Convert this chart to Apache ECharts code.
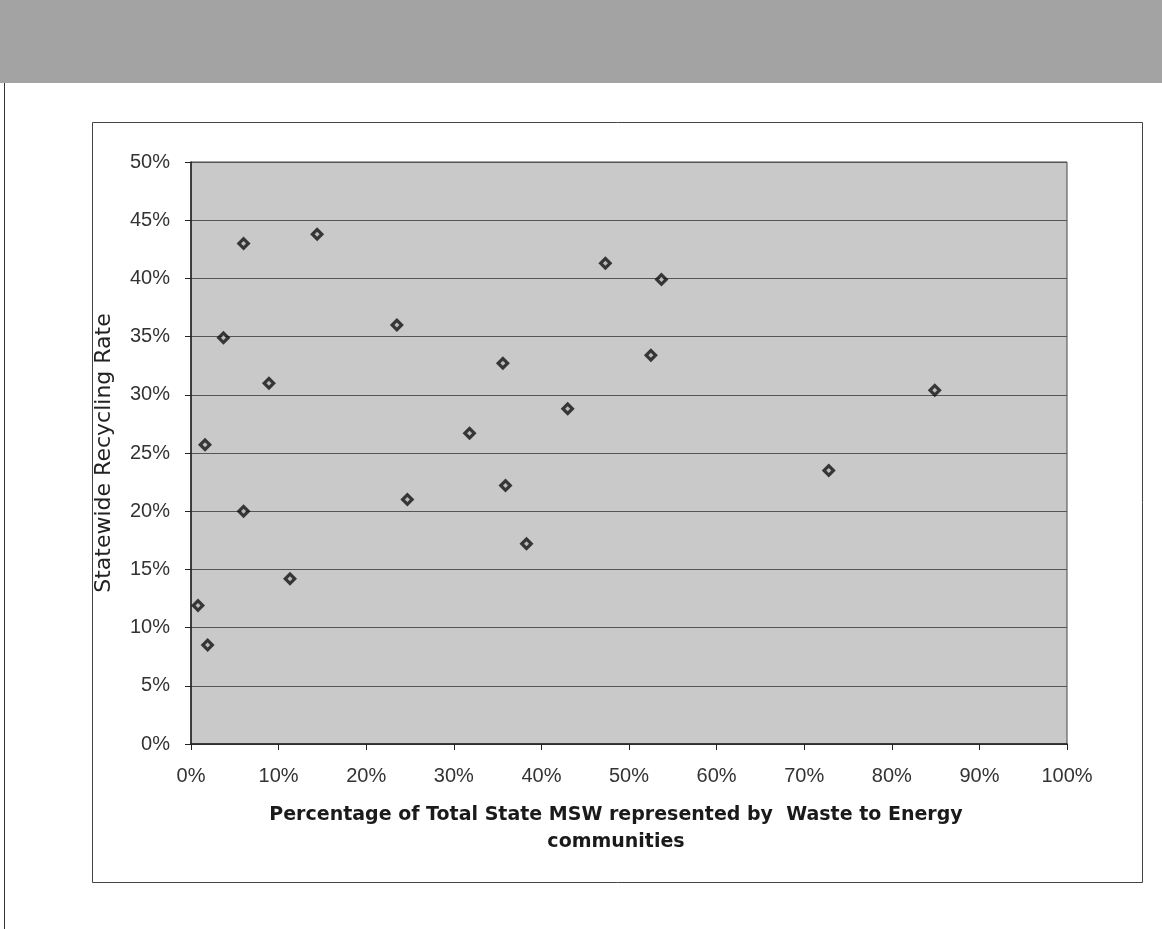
<!DOCTYPE html>
<html>
<head>
<meta charset="utf-8">
<script src="https://cdn.jsdelivr.net/npm/echarts@6/dist/echarts.min.js"></script>
<style>
html,body{margin:0;padding:0;background:#fff;}
#chart{width:1162px;height:929px;}
</style>
</head>
<body>
<div id="chart"></div>
<script>
// Percentage of total state MSW represented by WTE communities (%)
var wtePercent = [0.8, 1.9, 1.6, 6.0, 11.3, 3.7, 8.9, 6.0, 14.4, 23.5, 35.6, 47.3, 53.7, 52.5, 43.0, 31.8, 35.9, 24.7, 38.3, 84.9, 72.8];
// Statewide recycling rate (%)
var recyclingRate = [11.9, 8.5, 25.7, 20.0, 14.2, 34.9, 31.0, 43.0, 43.8, 36.0, 32.7, 41.3, 39.9, 33.4, 28.8, 26.7, 22.2, 21.0, 17.2, 30.4, 23.5];

var xTitle = ['Percentage of Total State MSW represented by  Waste to Energy', 'communities'];
var yTitle = 'Statewide Recycling Rate';

var points = wtePercent.map(function (x, i) { return [x, recyclingRate[i]]; });

var chart = echarts.init(document.getElementById('chart'), null, {renderer: 'canvas'});
var font = '"Liberation Sans", Arial, sans-serif';
chart.setOption({
  animation: false,
  backgroundColor: '#fff',
  grid: {
    left: 191, right: 95, top: 162, bottom: 185,
    show: true, backgroundColor: '#c9c9c9', borderColor: '#444', borderWidth: 1
  },
  xAxis: {
    type: 'value', min: 0, max: 100, interval: 10,
    axisLine: {show: true, lineStyle: {color: '#222', width: 1.5}},
    axisTick: {show: true, inside: false, length: 6, lineStyle: {color: '#222'}},
    axisLabel: {formatter: '{value}%', color: '#333', fontSize: 20, fontFamily: font, margin: 22},
    splitLine: {show: false}
  },
  yAxis: {
    type: 'value', min: 0, max: 50, interval: 5,
    name: yTitle, nameLocation: 'middle', nameGap: 76,
    nameTextStyle: {color: '#222', fontSize: 22, fontFamily: '"DejaVu Sans", sans-serif'},
    axisLine: {show: true, lineStyle: {color: '#222', width: 1.5}},
    axisTick: {show: true, inside: false, length: 6, lineStyle: {color: '#222'}},
    axisLabel: {formatter: '{value}%', color: '#333', fontSize: 20, fontFamily: font, margin: 21},
    splitLine: {show: true, lineStyle: {color: '#555', width: 1}}
  },
  graphic: [
    {type: 'rect', shape: {x: 0, y: 0, width: 1162, height: 83}, style: {fill: '#a3a3a3'}, z: -10},
    {type: 'line', shape: {x1: 4.5, y1: 83, x2: 4.5, y2: 929}, style: {stroke: '#333', lineWidth: 1}},
    {type: 'rect', shape: {x: 92.5, y: 122.5, width: 1050, height: 760}, style: {fill: null, stroke: '#444', lineWidth: 1}, z: -5},
    {type: 'text', x: 616, y: 802, style: {text: xTitle.join('\n'), textAlign: 'center', fill: '#1a1a1a',
      font: 'bold 19px "DejaVu Sans", sans-serif', lineHeight: 27}}
  ],
  series: [
    {
      type: 'scatter', data: points, symbol: 'diamond', symbolSize: 14,
      itemStyle: {color: '#111'}, z: 3
    },
    {
      type: 'scatter', data: points, symbol: 'diamond', symbolSize: 5,
      itemStyle: {color: '#ddd'}, z: 4, silent: true
    }
  ]
});
</script>
</body>
</html>
